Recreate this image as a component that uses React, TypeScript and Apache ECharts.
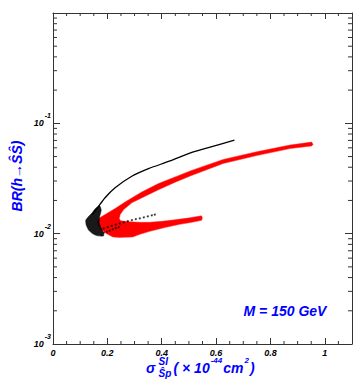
import React, { useEffect, useRef } from 'react';
import * as echarts from 'echarts';

// ---- data (x in 1e-44 cm^2, y = BR) ----
const redBand: [number, number][] = [
  [0.1646, 0.01321], [0.1731, 0.01398], [0.1978, 0.0152], [0.2284, 0.01688], [0.2652, 0.01938],
  [0.3267, 0.02389], [0.3882, 0.02848], [0.4494, 0.0327], [0.5072, 0.03724], [0.6262, 0.04706],
  [0.7492, 0.05518], [0.8718, 0.06348], [0.9517, 0.06761], [0.9565, 0.06442], [0.9517, 0.06243],
  [0.8718, 0.05901], [0.7492, 0.05098], [0.6262, 0.04329], [0.5072, 0.03354], [0.4494, 0.02927],
  [0.3882, 0.02501], [0.3389, 0.02183], [0.2899, 0.01905], [0.2593, 0.01646], [0.2468, 0.01482],
  [0.2438, 0.01363], [0.2494, 0.01307], [0.2825, 0.0128], [0.3193, 0.01267], [0.3562, 0.01267],
  [0.4004, 0.01293], [0.4483, 0.01335], [0.5035, 0.01392], [0.5466, 0.01451], [0.5495, 0.01383],
  [0.5466, 0.01321], [0.5109, 0.01267], [0.4667, 0.01215], [0.4151, 0.01141], [0.3562, 0.01049],
  [0.3193, 0.009854], [0.2936, 0.009352], [0.2457, 0.009255], [0.2199, 0.009352], [0.1978, 0.009959],
  [0.1794, 0.01072], [0.1683, 0.01165], [0.1628, 0.01267],
];

const blackUpper: [number, number][] = [
  [0.1425, 0.01482], [0.161, 0.01681], [0.1915, 0.02116], [0.2284, 0.02609], [0.2899, 0.03318],
  [0.3514, 0.03883], [0.4309, 0.04561], [0.5035, 0.0537], [0.5845, 0.06152], [0.6674, 0.07049],
];

const blackNose: [number, number][] = [
  [0.1536, 0.01663], [0.1425, 0.01529], [0.1297, 0.01421], [0.1204, 0.01321], [0.1223, 0.0119],
  [0.1315, 0.01072], [0.1462, 0.009959], [0.1646, 0.00955], [0.1867, 0.00955], [0.1831, 0.01049],
  [0.1757, 0.01141], [0.1702, 0.01267], [0.172, 0.01436], [0.1775, 0.01629], [0.172, 0.01789],
  [0.161, 0.01734],
];

const blackTail: [number, number][] = [
  [0.1867, 0.01117], [0.2015, 0.01146], [0.2162, 0.01175], [0.2309, 0.01205], [0.2457, 0.01236],
  [0.2604, 0.01267], [0.2751, 0.01299], [0.2899, 0.01326], [0.3046, 0.01355], [0.3193, 0.01377],
  [0.3341, 0.01407], [0.3488, 0.01436], [0.3635, 0.01467], [0.3746, 0.01489],
  [0.1867, 0.01017], [0.1978, 0.01038], [0.2088, 0.01067], [0.2199, 0.01094], [0.2309, 0.01122],
  [0.242, 0.01148],
];

const xMin = 0;
const xMax = 1.1;
const xInterval = 0.2;
const xMinorTicks = [0.05, 0.1, 0.15, 0.25, 0.3, 0.35, 0.45, 0.5, 0.55, 0.65, 0.7, 0.75, 0.85, 0.9, 0.95, 1.05];
const yMin = 0.001;
const yMax = 1;
const yMinorTicks = [
  0.002, 0.003, 0.004, 0.005, 0.006, 0.007, 0.008, 0.009,
  0.02, 0.03, 0.04, 0.05, 0.06, 0.07, 0.08, 0.09,
  0.2, 0.3, 0.4, 0.5, 0.6, 0.7, 0.8, 0.9,
];

const FONT = '"Liberation Sans", Arial, Helvetica, sans-serif';
const BLUE = '#0000ff';
const AXIS = '#333333';

const labelFont = { fontWeight: 'bold', fontStyle: 'italic', fontFamily: FONT, color: '#000' };
const blueFont = { fontWeight: 'bold', fontStyle: 'italic', fontFamily: FONT, fill: BLUE };

function blueText(x: number, y: number, text: string, size: number, align = 'left') {
  return {
    type: 'text',
    x,
    y,
    silent: true,
    style: { text, fontSize: size, ...blueFont, align, verticalAlign: 'middle' },
  };
}

export default function App() {
  const ref = useRef<HTMLDivElement>(null);

  useEffect(() => {
    if (!ref.current) return;
    const chart = echarts.init(ref.current, undefined, { renderer: 'svg' });

    const axisLine = { show: true, onZero: false, lineStyle: { color: AXIS, width: 1 } };

    const option: any = {
      animation: false,
      backgroundColor: '#ffffff',
      grid: { left: 53, top: 13, width: 299, height: 331, containLabel: false, outerBoundsMode: 'none' },
      xAxis: [
        {
          type: 'value', min: xMin, max: xMax, interval: xInterval, position: 'bottom',
          axisLine, splitLine: { show: false },
          axisTick: { show: true, inside: true, length: 6, lineStyle: { color: AXIS } },
          axisLabel: {
            show: true, margin: 4, showMaxLabel: false, showMinLabel: true, fontSize: 9, ...labelFont,
            formatter: (v: number) => String(Math.round(v * 10) / 10),
          },
        },
        {
          type: 'value', min: xMin, max: xMax, interval: xInterval, position: 'top',
          axisLine, splitLine: { show: false },
          axisTick: { show: true, inside: true, length: 6, lineStyle: { color: AXIS } },
          axisLabel: { show: false },
        },
      ],
      yAxis: [
        {
          type: 'log', logBase: 10, min: yMin, max: yMax, splitNumber: 3, position: 'left',
          axisLine, splitLine: { show: false },
          axisTick: { show: true, inside: true, length: 7, lineStyle: { color: AXIS } },
          axisLabel: {
            show: true, margin: 2, showMaxLabel: false, showMinLabel: true,
            formatter: (v: number) => `{b|10}{s|${Math.round(Math.log10(v))}}`,
            rich: {
              b: { fontSize: 9, ...labelFont, verticalAlign: 'middle' },
              s: { fontSize: 7, ...labelFont, verticalAlign: 'middle', padding: [0, 0, 15, 1] },
            },
          },
        },
        {
          type: 'log', logBase: 10, min: yMin, max: yMax, splitNumber: 3, position: 'right',
          axisLine, splitLine: { show: false },
          axisTick: { show: true, inside: true, length: 7, lineStyle: { color: AXIS } },
          axisLabel: { show: false },
        },
      ],
      series: [
        {
          name: 'red band', type: 'custom', xAxisIndex: 0, yAxisIndex: 0, silent: true, z: 2,
          data: redBand,
          renderItem: (params: any, api: any) => {
            if (params.dataIndex !== 0) return null;
            return {
              type: 'polygon',
              shape: { points: redBand.map((p) => api.coord(p)) },
              style: { fill: '#ff0000', stroke: '#ff2020', lineWidth: 0.5 },
            };
          },
        },
        {
          name: 'black upper', type: 'line', xAxisIndex: 0, yAxisIndex: 0, silent: true, z: 3,
          data: blackUpper, symbol: 'none', smooth: 0.3,
          lineStyle: { color: '#000', width: 1.3 },
        },
        {
          name: 'black nose', type: 'custom', xAxisIndex: 0, yAxisIndex: 0, silent: true, z: 4,
          data: blackNose,
          renderItem: (params: any, api: any) => {
            if (params.dataIndex !== 0) return null;
            return {
              type: 'polygon',
              shape: { points: blackNose.map((p) => api.coord(p)), smooth: 0.2 },
              style: { fill: 'rgba(0,0,0,0.9)', stroke: 'rgba(0,0,0,0.7)', lineWidth: 0.6 },
            };
          },
        },
        {
          name: 'black tail', type: 'scatter', xAxisIndex: 0, yAxisIndex: 0, silent: true, z: 5,
          data: blackTail, symbol: 'circle', symbolSize: 2,
          itemStyle: { color: '#000' },
        },
        {
          name: 'x minor ticks', type: 'custom', xAxisIndex: 0, yAxisIndex: 0, silent: true, z: 6,
          clip: false,
          data: xMinorTicks.map((v) => [v, yMin]),
          renderItem: (params: any, api: any) => {
            const b = api.coord([api.value(0), yMin]);
            const t = api.coord([api.value(0), yMax]);
            const st = { stroke: AXIS, lineWidth: 1 };
            return {
              type: 'group',
              children: [
                { type: 'line', shape: { x1: b[0], y1: b[1], x2: b[0], y2: b[1] - 3 }, style: st },
                { type: 'line', shape: { x1: t[0], y1: t[1], x2: t[0], y2: t[1] + 3 }, style: st },
              ],
            };
          },
        },
        {
          name: 'y minor ticks', type: 'custom', xAxisIndex: 0, yAxisIndex: 0, silent: true, z: 6,
          clip: false,
          data: yMinorTicks.map((v) => [xMin, v]),
          renderItem: (params: any, api: any) => {
            const l = api.coord([xMin, api.value(1)]);
            const r = api.coord([xMax, api.value(1)]);
            const st = { stroke: AXIS, lineWidth: 1 };
            return {
              type: 'group',
              children: [
                { type: 'line', shape: { x1: l[0], y1: l[1], x2: l[0] + 4, y2: l[1] }, style: st },
                { type: 'line', shape: { x1: r[0], y1: r[1], x2: r[0] - 4, y2: r[1] }, style: st },
              ],
            };
          },
        },
      ],
      graphic: [
        {
          type: 'text', x: 17, y: 176, rotation: Math.PI / 2, silent: true,
          style: {
            text: 'BR(h→ŜŜ)', fontSize: 14, ...blueFont, align: 'center', verticalAlign: 'middle',
          },
        },
        blueText(146, 368, 'σ', 14),
        blueText(158.5, 361.5, 'SI', 10),
        blueText(158.5, 373.5, 'Ŝp', 10),
        {
          type: 'text', x: 173.5, y: 367.5, silent: true,
          style: {
            text: '{n|( × 10}{s|-44}{n|cm}{s|2}{n|)}',
            fontSize: 14, ...blueFont, align: 'left', verticalAlign: 'middle',
            rich: {
              n: { fontSize: 14, ...blueFont, verticalAlign: 'middle' },
              s: { fontSize: 8, ...blueFont, verticalAlign: 'middle', padding: [0, 1, 14, 1] },
            },
          },
        },
        blueText(285, 311, 'M = 150 GeV', 14, 'center'),
      ],
    };

    chart.setOption(option);
    return () => chart.dispose();
  }, []);

  return (
    <div
      ref={ref}
      style={{ position: 'fixed', left: 0, top: 0, width: 362, height: 382, background: '#fff' }}
    />
  );
}
